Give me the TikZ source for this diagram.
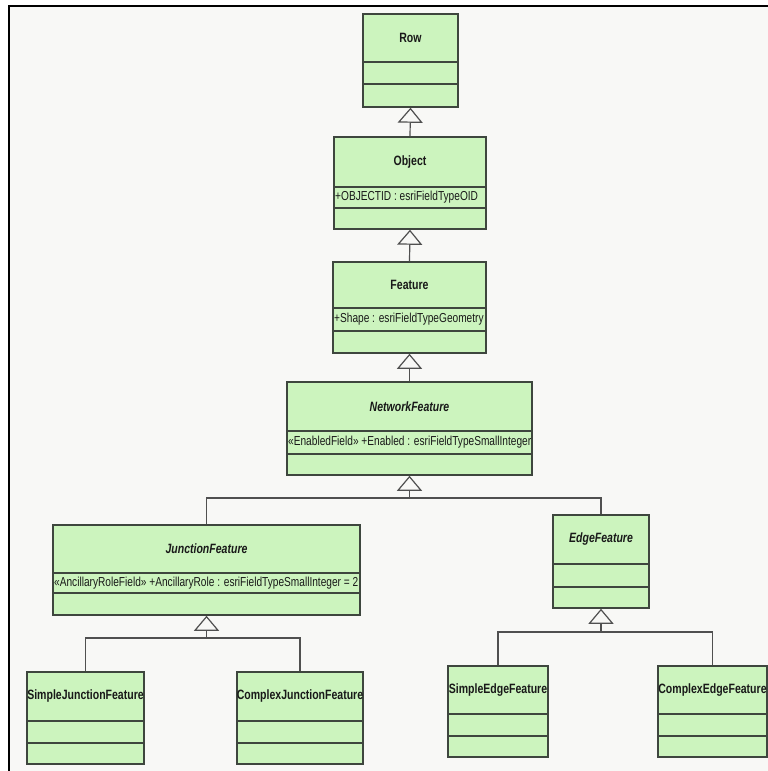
\documentclass[tikz,border=0pt]{standalone}
\usepackage{fontspec}
\newfontfamily\umltitlefont[FakeStretch=0.78]{Liberation Sans}
\newfontfamily\umlattrfont[FakeStretch=0.78]{Liberation Sans}
\usetikzlibrary{arrows.meta}
\definecolor{boxfill}{RGB}{204,244,190}
\definecolor{boxline}{RGB}{62,70,62}
\definecolor{bgcol}{RGB}{248,248,246}
\definecolor{conncol}{RGB}{80,80,80}
\tikzset{
  classbox/.style={draw=boxline, fill=boxfill, line width=1.5pt, inner sep=0pt, rectangle},
  compline/.style={draw=boxline, line width=1.4pt},
  titletext/.style={inner sep=0pt, font=\umltitlefont\fontsize{13.5}{15}\selectfont\bfseries, text=black!90},
  attrtext/.style={inner sep=0pt, anchor=west, font=\umlattrfont\fontsize{13}{15}\selectfont, text=black!90},
  connline/.style={draw=conncol, line width=1.2pt},
  gen/.style={connline, -{Triangle[length=15pt, width=25pt, fill=bgcol]}}
}
\newcommand\umlclass[9]{%
  \node[classbox, minimum width={(#4-#2)*1pt}, minimum height={(#5-#3)*1pt}] (#1) at ({(#2+#4)/2},{(#3+#5)/2}) {};
  \draw[compline] (#2,#6) -- (#4,#6) (#2,#7) -- (#4,#7);
  \node[titletext] (#1-name) at ({(#2+#4)/2},{(#3+#6)/2}) {#8};
  \node[attrtext] (#1-attr) at ({#2+1},{(#6+#7)/2}) {#9};
}
\begin{document}
\begin{tikzpicture}[x=1pt,y=-1pt]
\useasboundingbox (0,0) rectangle (768,771);
\fill[white] (0,0) rectangle (768,771);
\fill[bgcol] (9,6) rectangle (768,771);
\draw[black, line width=2.5pt] (9,771) -- (9,6) -- (768,6);

\umlclass{row}{363}{14}{458}{107}{62}{84}{Row}{}
\umlclass{object}{334}{137}{486}{229}{187}{208}{Object}{+OBJECTID : esriFieldTypeOID}
\umlclass{feature}{333}{262}{486}{353}{308}{331}{Feature}{+Shape : esriFieldTypeGeometry}
\umlclass{nf}{287}{382}{532}{475}{431}{454}{\textit{NetworkFeature}}{«EnabledField» +Enabled : esriFieldTypeSmallInteger}
\umlclass{jf}{53}{525}{360}{615}{573}{593}{\textit{JunctionFeature}}{«AncillaryRoleField» +AncillaryRole : esriFieldTypeSmallInteger = 2}
\umlclass{ef}{553}{515}{649}{608}{564}{587}{\textit{EdgeFeature}}{}
\umlclass{sjf}{27}{672}{144}{764}{721}{743}{SimpleJunctionFeature}{}
\umlclass{cjf}{237}{672}{363}{764}{721}{743}{ComplexJunctionFeature}{}
\umlclass{sef}{448}{666}{548}{757}{714}{736}{SimpleEdgeFeature}{}
\umlclass{cef}{658}{666}{767}{757}{714}{736}{ComplexEdgeFeature}{}

\draw[gen] (object.north) -- (row.south);
\draw[gen] (feature.north) -- (object.south);
\draw[gen] (nf.north) -- (feature.south);

\coordinate (nfbus) at (409.5,498);
\draw[connline] (jf.north) |- (nfbus);
\draw[connline] (ef.north) |- (nfbus);
\draw[gen] (nfbus) -- (nf.south);

\coordinate (jbus) at (206.5,638);
\draw[connline] (sjf.north) |- (jbus);
\draw[connline] (cjf.north) |- (jbus);
\draw[gen] (jbus) -- (jf.south);

\coordinate (ebus) at (601,632);
\draw[connline] (sef.north) |- (ebus);
\draw[connline] (cef.north) |- (ebus);
\draw[gen] (ebus) -- (ef.south);
\end{tikzpicture}
\end{document}
